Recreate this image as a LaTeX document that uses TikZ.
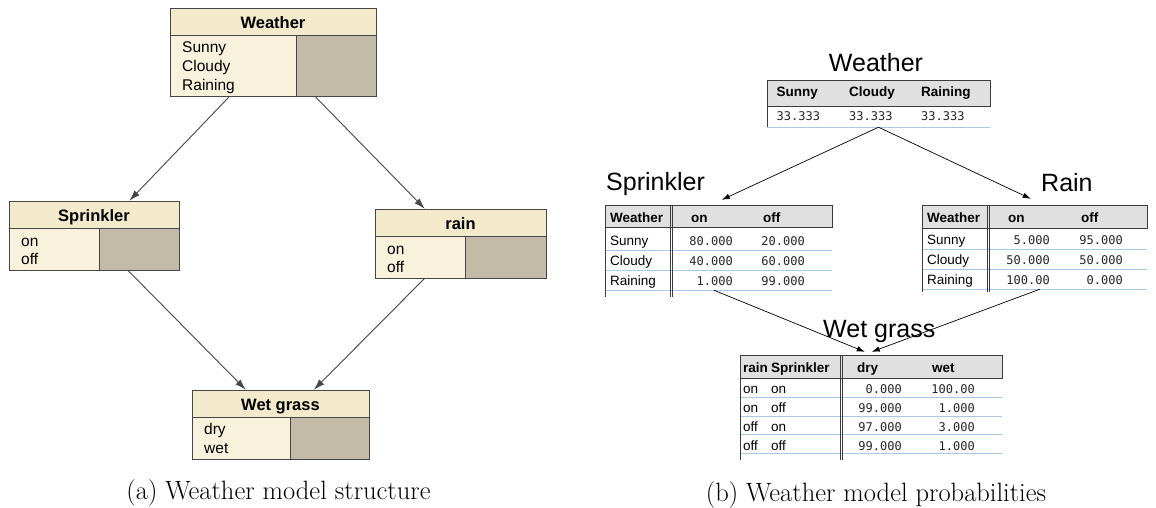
\documentclass[tikz,border=0pt]{standalone}
\usepackage{fontspec}
\setsansfont{Liberation Sans}
\newfontfamily\monof{DejaVu Sans Mono}
\usetikzlibrary{calc,fit,arrows.meta}
\definecolor{hdrbeige}{RGB}{242,234,202}
\definecolor{bodybeige}{RGB}{248,241,220}
\definecolor{graybox}{RGB}{195,187,168}
\definecolor{boxline}{RGB}{70,70,70}
\definecolor{tblgray}{RGB}{224,224,224}
\definecolor{rowblue}{RGB}{170,200,232}
\definecolor{tblborder}{RGB}{60,60,60}
% #1 name, #2 x1, #3 y1, #4 x2, #5 y2, #6 y of header line, #7 x of divider, #8 title
\newcommand\netbox[8]{%
  \fill[bodybeige] (#2,#6) rectangle (#7,#5);
  \fill[graybox] (#7,#6) rectangle (#4,#5);
  \fill[hdrbeige] (#2,#3) rectangle (#4,#6);
  \draw[boxln] (#2,#3) rectangle (#4,#5) (#2,#6) -- (#4,#6) (#7,#6) -- (#7,#5);
  \node[fit={(#2,#3)(#4,#5)}, inner sep=0pt] (#1) {};
  \node[hdrtext] (#1-t) at ({(#2+#4)/2},{#6-7}) {#8};
}
\begin{document}
\begin{tikzpicture}[x=1pt,y=-1pt,
  boxln/.style={draw=boxline, line width=1pt},
  hdrtext/.style={font=\sffamily\bfseries\fontsize{16.5}{18}\selectfont, inner sep=0pt, anchor=base},
  itemtext/.style={font=\sffamily\fontsize{15.5}{18}\selectfont, inner sep=0pt, anchor=base west},
  title/.style={font=\sffamily\fontsize{25}{30}\selectfont, inner sep=0pt},
  thead/.style={font=\sffamily\bfseries\fontsize{13.5}{16}\selectfont, inner sep=0pt, anchor=base west},
  tcell/.style={font=\sffamily\fontsize{13.5}{16}\selectfont, inner sep=0pt, anchor=base west},
  tval/.style={font=\monof\fontsize{12}{14}\selectfont, text=black!85, inner sep=0pt, anchor=base east},
  tvalw/.style={font=\monof\fontsize{12}{14}\selectfont, text=black!85, inner sep=0pt, anchor=base west},
  tbord/.style={draw=tblborder, line width=0.8pt},
  rowline/.style={draw=rowblue, line width=0.8pt},
  larrow/.style={draw=boxline, line width=0.9pt, -{Latex[length=11pt,width=7pt]}},
  rarrow/.style={draw=black, line width=0.7pt, -{Latex[length=8pt,width=5.5pt]}},
  caption/.style={font=\fontsize{26.5}{30}\selectfont, inner sep=0pt}
]
\useasboundingbox[fill=white] (0,0) rectangle (1156,508);

% ---------------- left panel ----------------
\netbox{W}{170}{9}{376}{97}{36}{296}{Weather}
\node[itemtext] (W-1) at (182,53) {Sunny};
\node[itemtext] (W-2) at (182,72) {Cloudy};
\node[itemtext] (W-3) at (182,91) {Raining};

\netbox{S}{9}{201}{179}{270}{228}{99}{Sprinkler}
\node[itemtext] (S-1) at (21,246) {on};
\node[itemtext] (S-2) at (21,264) {off};

\netbox{R}{375}{209}{546}{278}{236}{465}{rain}
\node[itemtext] (R-1) at (387,254) {on};
\node[itemtext] (R-2) at (387,272) {off};

\netbox{G}{192}{390}{369}{459}{417}{290}{Wet grass}
\node[itemtext] (G-1) at (204,434) {dry};
\node[itemtext] (G-2) at (204,453) {wet};

\draw[larrow] ($(W.south west)+(59,0)$) -- ($(S.north west)+(120.5,0)$);
\draw[larrow] ($(W.south west)+(146,0)$) -- ($(R.north west)+(50,0)$);
\draw[larrow] ($(S.south west)+(119,0)$) -- ($(G.north west)+(54,0)$);
\draw[larrow] ($(R.south west)+(50,0)$) -- ($(G.north west)+(122,0)$);

\node[caption] (capA) at (278.5,493) {(a) Weather model structure};

% ---------------- right panel ----------------
% Weather table
\node[title, anchor=base] (tW) at (876,72) {Weather};
\fill[tblgray] (767,80) rectangle (990,106);
\draw[tbord] (767,80) rectangle (990,106);
\draw[tbord] (767,106) -- (767,127);
\draw[rowline] (767,127) -- (990,127);
\node[fit={(767,80)(990,127)}, inner sep=0pt] (TW) {};
\node[thead] (TW-h1) at (776.5,97) {Sunny};
\node[thead] (TW-h2) at (849,97) {Cloudy};
\node[thead] (TW-h3) at (921,97) {Raining};
\node[tvalw] (TW-v1) at (776.5,121) {33.333};
\node[tvalw] (TW-v2) at (849,121) {33.333};
\node[tvalw] (TW-v3) at (921,121) {33.333};

% Sprinkler table
\node[title, anchor=base west] (tS) at (606,190) {Sprinkler};
\fill[tblgray] (605,205) rectangle (832,227);
\draw[tbord] (605,205) rectangle (832,227);
\draw[rowline] (605,250) -- (832,250) (605,270) -- (832,270) (605,290) -- (832,290);
\draw[tbord] (605,227) -- (605,297);
\draw[tbord] (670,205) -- (670,297) (672.5,205) -- (672.5,297);
\node[fit={(605,205)(832,290)}, inner sep=0pt] (TS) {};
\node[thead] (TS-h0) at (610,222) {Weather};
\node[thead] (TS-h1) at (691,222) {on};
\node[thead] (TS-h2) at (763,222) {off};
\node[tcell] (TS-r1) at (610,245) {Sunny};
\node[tcell] (TS-r2) at (610,265) {Cloudy};
\node[tcell] (TS-r3) at (610,285) {Raining};
\node[tval] (TS-a1) at (733,245) {80.000};
\node[tval] (TS-b1) at (805,245) {20.000};
\node[tval] (TS-a2) at (733,265) {40.000};
\node[tval] (TS-b2) at (805,265) {60.000};
\node[tval] (TS-a3) at (733,285) {1.000};
\node[tval] (TS-b3) at (805,285) {99.000};

% Rain table
\node[title, anchor=base west] (tR) at (1041,191) {Rain};
\fill[tblgray] (922,205) rectangle (1147,228);
\draw[tbord] (922,205) rectangle (1147,228);
\draw[rowline] (922,249) -- (1147,249) (922,269) -- (1147,269) (922,289) -- (1147,289);
\draw[tbord] (922,228) -- (922,292);
\draw[tbord] (987,205) -- (987,292) (989.5,205) -- (989.5,292);
\node[fit={(922,205)(1147,289)}, inner sep=0pt] (TR) {};
\node[thead] (TR-h0) at (927,222) {Weather};
\node[thead] (TR-h1) at (1008,222) {on};
\node[thead] (TR-h2) at (1081,222) {off};
\node[tcell] (TR-r1) at (927,244) {Sunny};
\node[tcell] (TR-r2) at (927,264) {Cloudy};
\node[tcell] (TR-r3) at (927,284) {Raining};
\node[tval] (TR-a1) at (1050,244) {5.000};
\node[tval] (TR-b1) at (1123,244) {95.000};
\node[tval] (TR-a2) at (1050,264) {50.000};
\node[tval] (TR-b2) at (1123,264) {50.000};
\node[tval] (TR-a3) at (1050,284) {100.00};
\node[tval] (TR-b3) at (1123,284) {0.000};

% Wet grass table
\node[title, anchor=base west] (tG) at (823,337) {Wet grass};
\fill[tblgray] (740,355) rectangle (1002,378);
\draw[tbord] (740,355) rectangle (1002,378);
\draw[rowline] (740,397) -- (1002,397) (740,416) -- (1002,416) (740,434) -- (1002,434) (740,453) -- (1002,453);
\draw[tbord] (740,378) -- (740,460);
\draw[tbord] (840,355) -- (840,460) (842.5,355) -- (842.5,460);
\node[fit={(740,355)(1002,453)}, inner sep=0pt] (TG) {};
\node[thead] (TG-h0) at (743,372) {rain};
\node[thead] (TG-h1) at (771,372) {Sprinkler};
\node[thead] (TG-h2) at (857,372) {dry};
\node[thead] (TG-h3) at (932,372) {wet};
\node[tcell] (TG-p1) at (743,393.5) {on};
\node[tcell] (TG-q1) at (771,393.5) {on};
\node[tcell] (TG-p2) at (743,412.5) {on};
\node[tcell] (TG-q2) at (771,412.5) {off};
\node[tcell] (TG-p3) at (743,431) {off};
\node[tcell] (TG-q3) at (771,431) {on};
\node[tcell] (TG-p4) at (743,450) {off};
\node[tcell] (TG-q4) at (771,450) {off};
\node[tval] (TG-a1) at (902,393.5) {0.000};
\node[tval] (TG-b1) at (975,393.5) {100.00};
\node[tval] (TG-a2) at (902,412.5) {99.000};
\node[tval] (TG-b2) at (975,412.5) {1.000};
\node[tval] (TG-a3) at (902,431) {97.000};
\node[tval] (TG-b3) at (975,431) {3.000};
\node[tval] (TG-a4) at (902,450) {99.000};
\node[tval] (TG-b4) at (975,450) {1.000};

% arrows
\draw[rarrow] (TW.south) -- ($(TS.north west)+(117,-5)$);
\draw[rarrow] (TW.south) -- ($(TR.north west)+(109,-6)$);
\draw[rarrow] ($(TS.south west)+(109,0)$) -- ($(TG.north west)+(125,-3)$);
\draw[rarrow] ($(TR.south west)+(118,0)$) -- ($(TG.north west)+(132,-3)$);

\node[caption] (capB) at (876,495) {(b) Weather model probabilities};
\end{tikzpicture}
\end{document}
